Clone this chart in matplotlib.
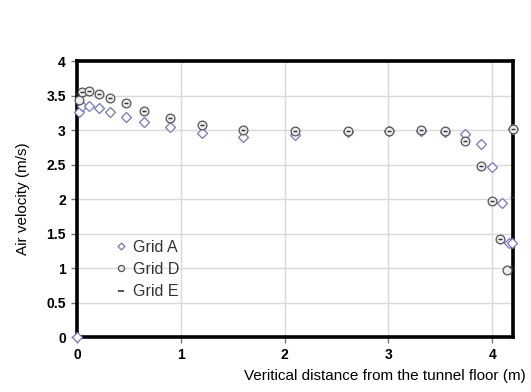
import matplotlib.pyplot as plt
import numpy as np

plt.rcParams['font.family'] = ['Liberation Sans', 'DejaVu Sans']

# Grid A (diamonds)
xa = [0, 0.02, 0.05, 0.12, 0.21, 0.32, 0.47, 0.65, 0.90, 1.20, 1.60, 2.10,
      2.61, 3.01, 3.31, 3.55, 3.74, 3.89, 4.00, 4.09, 4.16, 4.19, 4.20]
ya = [0, 3.27, 3.35, 3.35, 3.32, 3.27, 3.19, 3.12, 3.04, 2.96, 2.90, 2.93,
      2.97, 2.99, 2.99, 2.97, 2.95, 2.80, 2.47, 1.94, 1.37, 1.37, 3.01]

# Grid D (circles)
xd = [0.02, 0.045, 0.12, 0.21, 0.32, 0.47, 0.65, 0.90, 1.20, 1.60, 2.10,
      2.61, 3.01, 3.31, 3.55, 3.74, 3.89, 4.00, 4.08, 4.14, 4.20]
yd = [3.43, 3.55, 3.57, 3.53, 3.47, 3.39, 3.28, 3.18, 3.07, 3.00, 2.99,
      2.99, 2.99, 3.00, 2.99, 2.84, 2.48, 1.97, 1.42, 0.97, 3.01]

# Grid E (dashes)
xe = [0.0, 0.05, 0.12, 0.21, 0.32, 0.47, 0.65, 0.90, 1.20, 1.60, 2.10,
      2.61, 3.01, 3.31, 3.55, 3.74, 3.89, 4.00, 4.08, 4.19, 4.18, 4.20]
ye = [3.52, 3.55, 3.57, 3.53, 3.47, 3.39, 3.28, 3.18, 3.07, 3.00, 2.99,
      2.99, 2.99, 3.00, 2.99, 2.84, 2.48, 1.97, 1.42, 2.03, 1.02, 3.01]

fig = plt.figure(figsize=(5.31, 3.92), dpi=100)
ax = fig.add_axes([0.145, 0.14, 0.821, 0.704])

ax.plot(xa, ya, 'D', ms=5, mfc='white', mec='#7474cc', mew=0.9,
        ls='none', label='Grid A', clip_on=False, zorder=3)
ax.plot(xd, yd, 'o', ms=6.3, mfc='#ececec', mec='#555555', mew=0.9,
        ls='none', label='Grid D', clip_on=False, zorder=4)
ax.plot(xe, ye, '_', ms=3, mec='#333333', mew=1.0,
        ls='none', label='Grid E', clip_on=False, zorder=5)

ax.set_xlim(0, 4.2)
ax.set_ylim(0, 4)
ax.set_xticks([0, 1, 2, 3, 4])
ax.set_yticks(np.arange(0, 4.01, 0.5))
ax.set_yticklabels(['0', '0.5', '1', '1.5', '2', '2.5', '3', '3.5', '4'])
ax.grid(True, color='#d9d9d9', lw=1)
ax.set_axisbelow(True)

for s in ax.spines.values():
    s.set_linewidth(2.6)
    s.set_color('black')

ax.tick_params(direction='out', length=4, width=1, color='#777777',
               labelsize=10, pad=4)
for lab in ax.get_xticklabels() + ax.get_yticklabels():
    lab.set_fontweight('bold')

ax.set_xlabel('Veritical distance from the tunnel floor (m)', fontsize=11,
              ha='center')
ax.xaxis.set_label_coords(0.707, -0.115)
ax.set_ylabel('Air velocity (m/s)', fontsize=11)
ax.yaxis.set_label_coords(-0.108, 0.5)

leg = ax.legend(loc='upper left', bbox_to_anchor=(0.058, 0.405), frameon=False,
                fontsize=11.5, markerscale=0.7, handlelength=0.6,
                handletextpad=0.4, labelspacing=0.45)
leg.legend_handles[2].set_markersize(5)
leg.legend_handles[2].set_markeredgewidth(1.2)
for t in leg.get_texts():
    t.set_color('#333333')

fig.savefig('out.png', dpi=100)
